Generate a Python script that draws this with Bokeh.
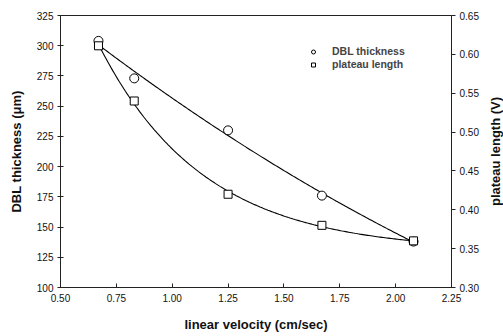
import numpy as np
from bokeh.plotting import figure
from bokeh.layouts import row
from bokeh.models import (Range1d, LinearAxis, FixedTicker, Legend, LegendItem,
                          NumeralTickFormatter, Label)
from bokeh.embed import file_html
from bokeh.resources import INLINE

# data
velocity = [0.67, 0.83, 1.25, 1.67, 2.08]          # linear velocity (cm/sec)
dbl_thickness = [304, 273, 230, 176, 138]          # µm, left axis
plateau_length = [0.611, 0.540, 0.420, 0.380, 0.360]  # V, right axis

x_ticks = [0.50, 0.75, 1.00, 1.25, 1.50, 1.75, 2.00, 2.25]
left_ticks = [100, 125, 150, 175, 200, 225, 250, 275, 300, 325]
right_ticks = [0.30, 0.35, 0.40, 0.45, 0.50, 0.55, 0.60, 0.65]

# fitted trend curves (least squares on the data)
vx = np.array(velocity)
xs = np.linspace(vx.min(), vx.max(), 200)
c_dbl = np.polyfit(vx, np.array(dbl_thickness), 2)
dbl_fit = np.polyval(c_dbl, xs)

py = np.array(plateau_length)
best = None
for c in np.linspace(0.3, 10, 1000):
    A = np.column_stack([np.ones_like(vx), np.exp(-c * vx)])
    coef, res, *_ = np.linalg.lstsq(A, py, rcond=None)
    r = np.sum((A @ coef - py) ** 2)
    if best is None or r < best[0]:
        best = (r, c, coef)
_, cc, coef = best
plateau_fit = coef[0] + coef[1] * np.exp(-cc * xs)

FONT = "Liberation Sans"
right_range = Range1d(0.30, 0.65)

p = figure(width=487, height=336, output_backend="svg",
           toolbar_location=None,
           x_range=Range1d(0.5, 2.25), y_range=Range1d(100, 325),
           min_border_left=60, min_border_right=36, min_border_top=15,
           min_border_bottom=49)
p.extra_y_ranges = {"v": right_range}
p.grid.visible = False
p.outline_line_color = "#222222"
p.outline_line_width = 1
p.background_fill_color = "white"
p.border_fill_color = "white"

# fitted lines
p.line(xs, dbl_fit, line_color="black", line_width=1.1)
p.line(xs, plateau_fit, line_color="black", line_width=1.1, y_range_name="v")

r1 = p.scatter(velocity, dbl_thickness, marker="circle", size=9,
               fill_color="white", line_color="black", line_width=1)
r2 = p.scatter(velocity, plateau_length, marker="square", size=8,
               fill_color="white", line_color="black", line_width=1,
               y_range_name="v")

# axes
xa = p.xaxis[0]
xa.ticker = FixedTicker(ticks=x_ticks)
xa.formatter = NumeralTickFormatter(format="0.00")
xa.axis_label = "linear velocity (cm/sec)"
xa.major_tick_in = 4
xa.major_tick_out = 0
xa.minor_tick_line_color = None

ya = p.yaxis[0]
ya.ticker = FixedTicker(ticks=left_ticks)
ya.axis_label = "DBL thickness (\u03bcm)"
ya.major_tick_in = 3
ya.major_tick_out = 3
ya.minor_tick_line_color = None

ra = LinearAxis(y_range_name="v", ticker=FixedTicker(ticks=right_ticks),
                formatter=NumeralTickFormatter(format="0.00"))
ra.major_tick_in = 0
ra.major_tick_out = 4
ra.minor_tick_line_color = None
p.add_layout(ra, "right")

for ax in [xa, ya, ra]:
    ax.axis_line_color = "#222222"
    ax.major_tick_line_color = "#222222"
    ax.major_label_text_font = FONT
    ax.major_label_text_font_size = "10px"
    ax.major_label_text_color = "#111111"
    ax.axis_label_text_font = FONT
    ax.axis_label_text_font_size = "13px"
    ax.axis_label_text_font_style = "bold"
    ax.axis_label_text_color = "#111111"

xa.major_label_standoff = 6
xa.axis_label_standoff = 12
ya.major_label_standoff = 4
ya.axis_label_standoff = 10
ra.major_label_standoff = 4

legend = Legend(items=[LegendItem(label="DBL thickness", renderers=[r1]),
                       LegendItem(label="plateau length", renderers=[r2])],
                location=(248, 217), background_fill_alpha=0,
                border_line_color=None, label_text_font=FONT,
                label_text_font_size="10.5px", label_text_font_style="bold",
                glyph_width=10, glyph_height=11, spacing=1, padding=0,
                label_standoff=14, label_height=11)
p.add_layout(legend, "center")

# narrow strip holding the right-axis title, reading bottom-to-top
side = figure(width=16, height=336, output_backend="svg", toolbar_location=None,
              x_range=Range1d(0, 1), y_range=right_range,
              x_axis_type=None, y_axis_type=None,
              min_border_left=0, min_border_right=0, min_border_top=15,
              min_border_bottom=49)
side.grid.visible = False
side.outline_line_color = None
side.background_fill_color = "white"
side.border_fill_color = "white"
side.add_layout(Label(x=0.5, y=(right_range.start + right_range.end) / 2,
                      text="plateau length (V)", angle=np.pi / 2,
                      text_align="center", text_baseline="middle",
                      text_font=FONT, text_font_size="13px",
                      text_font_style="bold", text_color="#111111"))

layout = row(p, side, spacing=0)
open("out.html", "w").write(file_html(layout, INLINE))
